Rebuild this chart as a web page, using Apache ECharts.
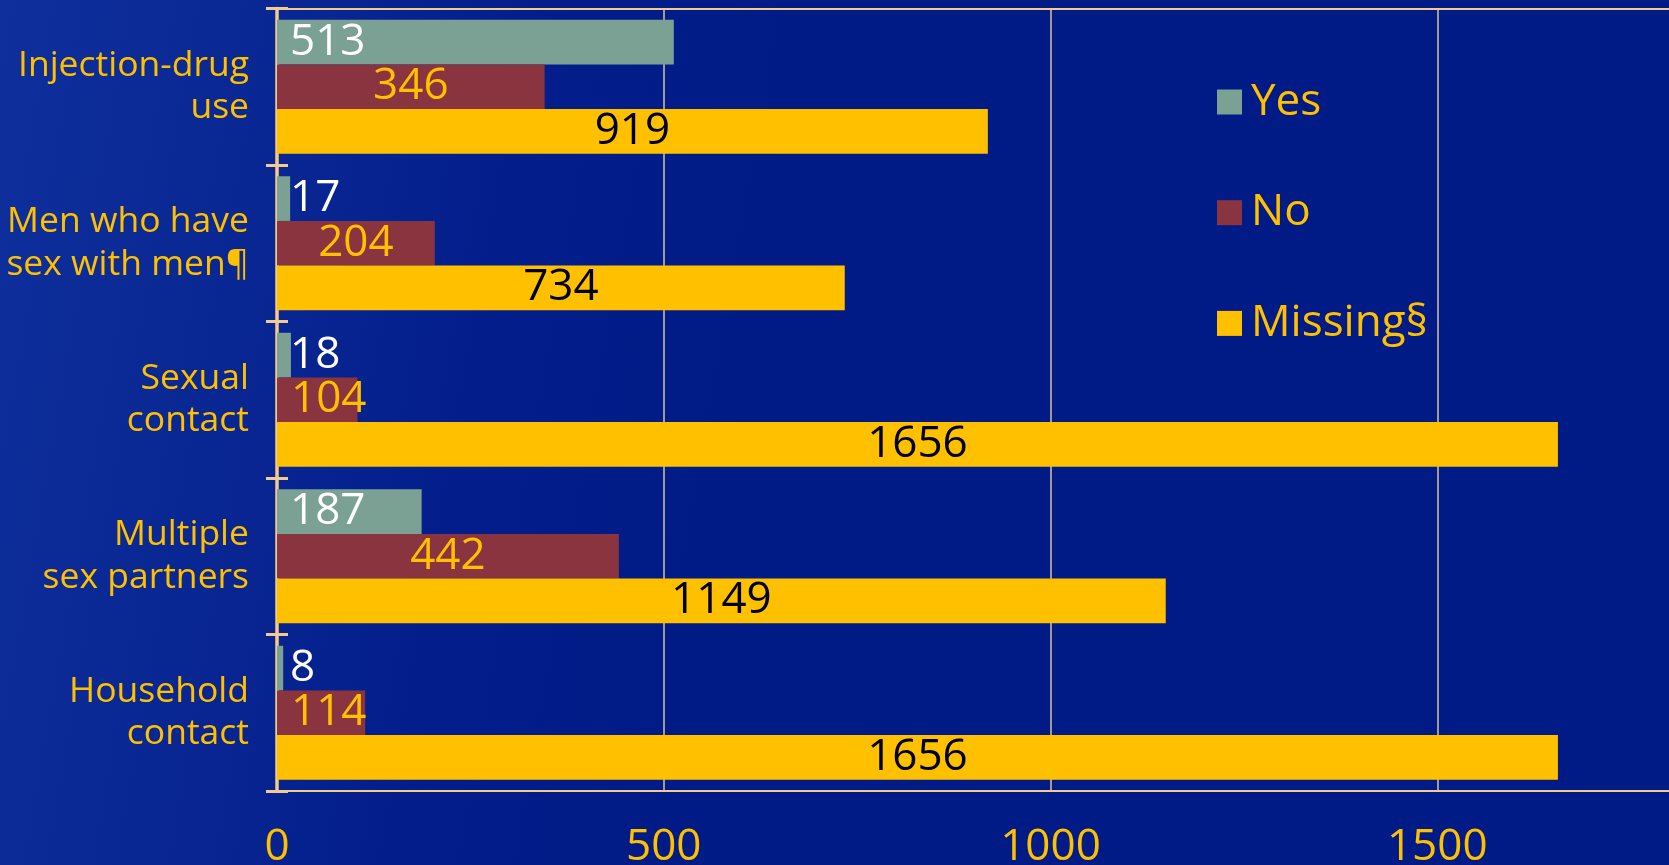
<!DOCTYPE html>
<html>
<head>
<meta charset="utf-8">
<script src="https://cdn.jsdelivr.net/npm/echarts@6/dist/echarts.min.js"></script>
<style>
html,body{margin:0;padding:0;width:1669px;height:865px;overflow:hidden;
background:linear-gradient(100deg,#0e2f9c 0%,#0a2894 14%,#031e8a 30%,#001a86 45%,#001a86 100%);}
#chart{width:1669px;height:865px;}
</style>
</head>
<body>
<div id="chart"></div>
<script>
const categories = ["Injection-drug\nuse", "Men who have\nsex with men¶", "Sexual\ncontact", "Multiple\nsex partners", "Household\ncontact"];
const yesValues = [513, 17, 18, 187, 8];
const noValues = [346, 204, 104, 442, 114];
const missingValues = [919, 734, 1656, 1149, 1656];
const xTicks = [0, 500, 1000, 1500];

const FONT = "Open Sans";
const GOLD = "#FFC000";
const LINE = "#F3CB8E";
const PLOT_LEFT = 277;

const chart = echarts.init(document.getElementById('chart'), null, {renderer: 'canvas'});
chart.setOption({
  backgroundColor: 'transparent',
  animation: false,
  grid: {left: PLOT_LEFT, top: 8.5, right: -155, bottom: 74, containLabel: false, outerBoundsMode: 'none'},
  legend: {
    orient: 'vertical', left: 1212, top: 75,
    itemWidth: 25, itemHeight: 25, itemGap: 66.7,
    icon: 'rect', selectedMode: false,
    textStyle: {color: GOLD, fontFamily: FONT, fontSize: 44, lineHeight: 44, padding: [0,0,0,4]},
    data: ['Yes', 'No', 'Missing§']
  },
  xAxis: [{
    type: 'value', min: 0, max: 2000, interval: 500, position: 'bottom',
    axisLine: {show: true, lineStyle: {color: LINE, width: 2}},
    axisTick: {show: false},
    splitLine: {show: true, lineStyle: {color: '#D9C3A0', width: 1.5}},
    axisLabel: {
      color: GOLD, fontFamily: FONT, fontSize: 44, margin: 34,
      formatter: v => xTicks.includes(v) ? String(v) : ''
    }
  }, {
    type: 'value', min: 0, max: 2000, position: 'top',
    axisLine: {show: true, lineStyle: {color: LINE, width: 2}},
    axisTick: {show: false}, axisLabel: {show: false}, splitLine: {show: false}
  }],
  yAxis: [{
    type: 'category', data: categories, inverse: true, position: 'left',
    axisLine: {show: true, lineStyle: {color: LINE, width: 3.5}},
    axisTick: {show: true, length: 11, lineStyle: {color: LINE, width: 3}},
    axisLabel: {color: GOLD, fontFamily: FONT, fontSize: 35.5, lineHeight: 42.5, margin: 28, align: 'right'},
    splitLine: {show: false}
  }, {
    type: 'category', data: categories, inverse: true, position: 'left',
    axisLine: {show: false},
    axisTick: {show: true, inside: true, length: 11, lineStyle: {color: LINE, width: 3}},
    axisLabel: {show: false}, splitLine: {show: false}
  }],
  series: [{
    name: 'Yes', type: 'bar', data: yesValues, barGap: '0%', barCategoryGap: '14.4%',
    itemStyle: {color: '#7BA195'},
    label: {show: true, position: 'insideLeft', distance: 13, color: '#FFFFFF', fontFamily: FONT, fontSize: 44}
  }, {
    name: 'No', type: 'bar', data: noValues, barGap: '0%', barCategoryGap: '14.4%',
    itemStyle: {color: '#8A3440'},
    label: {show: true, position: 'inside', color: GOLD, fontFamily: FONT, fontSize: 44},
    labelLayout: function (p) {
      const r = p.labelRect;
      if (r && r.x < PLOT_LEFT + 12) {
        return {x: PLOT_LEFT + 14, y: r.y + r.height / 2, align: 'left', verticalAlign: 'middle'};
      }
      return {};
    }
  }, {
    name: 'Missing§', type: 'bar', data: missingValues, barGap: '0%', barCategoryGap: '14.4%',
    itemStyle: {color: GOLD},
    label: {show: true, position: 'inside', color: '#000000', fontFamily: FONT, fontSize: 44}
  }]
});
</script>
</body>
</html>
